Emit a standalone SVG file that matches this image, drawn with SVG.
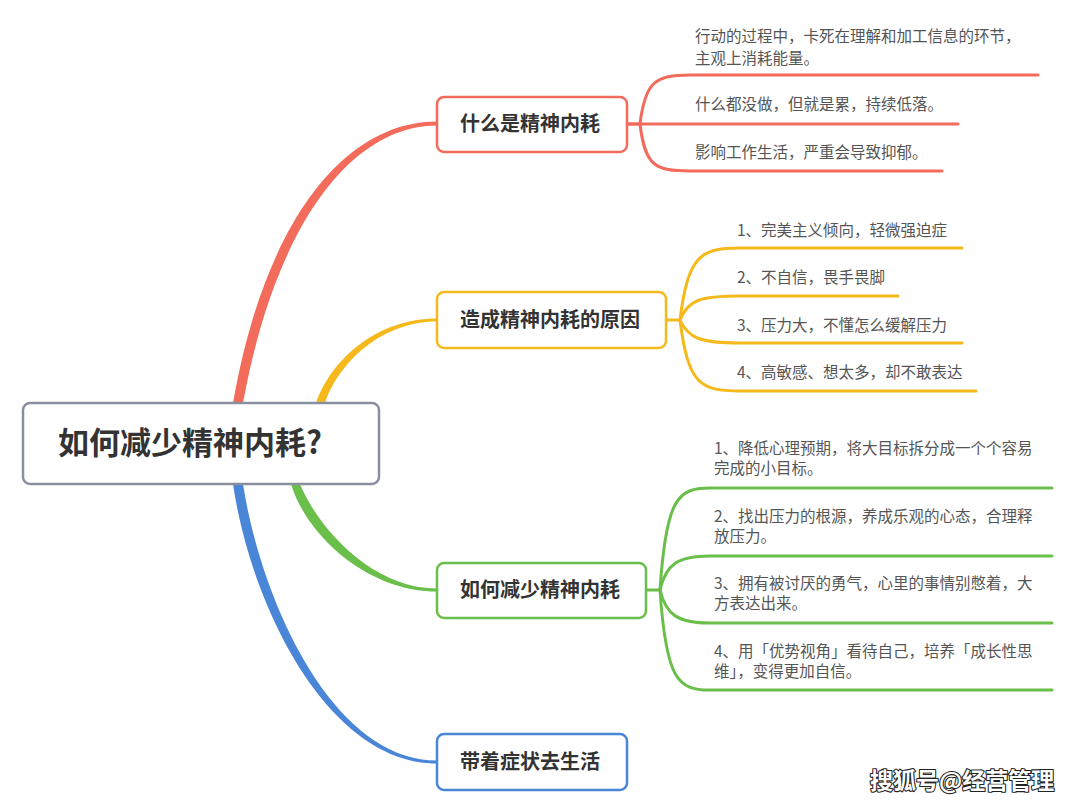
<svg xmlns="http://www.w3.org/2000/svg" width="1080" height="805" viewBox="0 0 1080 805">
<style>
.cjk{font-family:"Noto Sans CJK SC","Noto Sans",sans-serif}
.root{font-size:31px;font-weight:bold;fill:#333}
.title{font-size:20px;font-weight:bold;fill:#333}
.sub{font-size:15.5px;fill:#555}
.box{fill:#fff;stroke-width:2.5}
.ln{fill:none;stroke-width:3;stroke-linecap:round}
.wm{font-size:23px;font-weight:bold;fill:#fff;stroke:#222;stroke-width:2.2;paint-order:stroke;stroke-linejoin:round}
</style>
<rect width="1080" height="805" fill="#fff"/>
<g id="connectors">
  <path d="M233 403 C265 220 345 121.5 437 121.5 L437 125.5 C353 125.5 276 222 243 403 Z" fill="#f26b5b"/>
  <path d="M316 403 C332 358 378 318.5 437 318.5 L437 321.5 C382 321.5 339 362 325 403 Z" fill="#f5b91c"/>
  <path d="M291 484 C306 534 366 591.5 437 591.5 L437 588.5 C372 588.5 318 528 300 484 Z" fill="#6abf4b"/>
  <path d="M233 484 C250 602 326 763.5 437 763.5 L437 760.5 C332 760.5 261 600 243 484 Z" fill="#4a86d8"/>
  <g stroke="#f26b5b" class="ln">
    <path d="M627 124 L640 124 C645 82 655 75 690 75 L1038 75"/>
    <path d="M627 124 L958 124"/>
    <path d="M640 124 C645 166 655 171 690 171 L942 171"/>
  </g>
  <g stroke="#f5b91c" class="ln">
    <path d="M666 320 L680 320 C688 256 700 248 740 248 L962 248"/>
    <path d="M680 320 C688 300 700 296 740 296 L898 296"/>
    <path d="M680 320 C688 338 700 343 740 343 L962 343"/>
    <path d="M680 320 C688 384 700 391 740 391 L976 391"/>
  </g>
  <g stroke="#6abf4b" class="ln">
    <path d="M646 590 L660 590 C666 498 678 488 710 488 L1052 488"/>
    <path d="M660 590 C666 564 678 556 710 556 L1052 556"/>
    <path d="M660 590 C666 615 678 623 710 623 L1052 623"/>
    <path d="M660 590 C666 680 678 690 710 690 L1052 690"/>
  </g>
</g>
<g id="root">
  <rect x="23" y="403" width="356" height="81" rx="7" class="box" stroke="#8a8fa0" stroke-width="3"/>
  <text x="58" y="454" class="cjk root">如何减少精神内耗?</text>
</g>
<g id="node-what">
  <rect x="437" y="97" width="190" height="55" rx="7" class="box" stroke="#f26b5b"/>
  <text x="460" y="131" class="cjk title">什么是精神内耗</text>
</g>
<g id="node-what-items">
  <text x="695" y="42" class="cjk sub">行动的过程中，卡死在理解和加工信息的环节，</text>
  <text x="695" y="64" class="cjk sub">主观上消耗能量。</text>
  <text x="695" y="110" class="cjk sub">什么都没做，但就是累，持续低落。</text>
  <text x="695" y="158" class="cjk sub">影响工作生活，严重会导致抑郁。</text>
</g>
<g id="node-cause">
  <rect x="437" y="292" width="229" height="56" rx="7" class="box" stroke="#f5b91c"/>
  <text x="460" y="327" class="cjk title">造成精神内耗的原因</text>
</g>
<g id="node-cause-items">
  <text x="737" y="236" class="cjk sub">1、完美主义倾向，轻微强迫症</text>
  <text x="737" y="283" class="cjk sub">2、不自信，畏手畏脚</text>
  <text x="737" y="331" class="cjk sub">3、压力大，不懂怎么缓解压力</text>
  <text x="737" y="378" class="cjk sub">4、高敏感、想太多，却不敢表达</text>
</g>
<g id="node-how">
  <rect x="437" y="563" width="209" height="55" rx="7" class="box" stroke="#6abf4b"/>
  <text x="460" y="597" class="cjk title">如何减少精神内耗</text>
</g>
<g id="node-how-items">
  <text x="714" y="454" class="cjk sub">1、降低心理预期，将大目标拆分成一个个容易</text>
  <text x="714" y="474" class="cjk sub">完成的小目标。</text>
  <text x="714" y="522" class="cjk sub">2、找出压力的根源，养成乐观的心态，合理释</text>
  <text x="714" y="542" class="cjk sub">放压力。</text>
  <text x="714" y="589" class="cjk sub">3、拥有被讨厌的勇气，心里的事情别憋着，大</text>
  <text x="714" y="609" class="cjk sub">方表达出来。</text>
  <text x="714" y="657" class="cjk sub">4、用「优势视角」看待自己，培养「成长性思</text>
  <text x="714" y="677" class="cjk sub">维」，变得更加自信。</text>
</g>
<g id="node-live">
  <rect x="437" y="734" width="190" height="56" rx="7" class="box" stroke="#4a86d8"/>
  <text x="460" y="769" class="cjk title">带着症状去生活</text>
</g>
<text x="870" y="789" class="cjk wm">搜狐号@经营管理</text>
</svg>
